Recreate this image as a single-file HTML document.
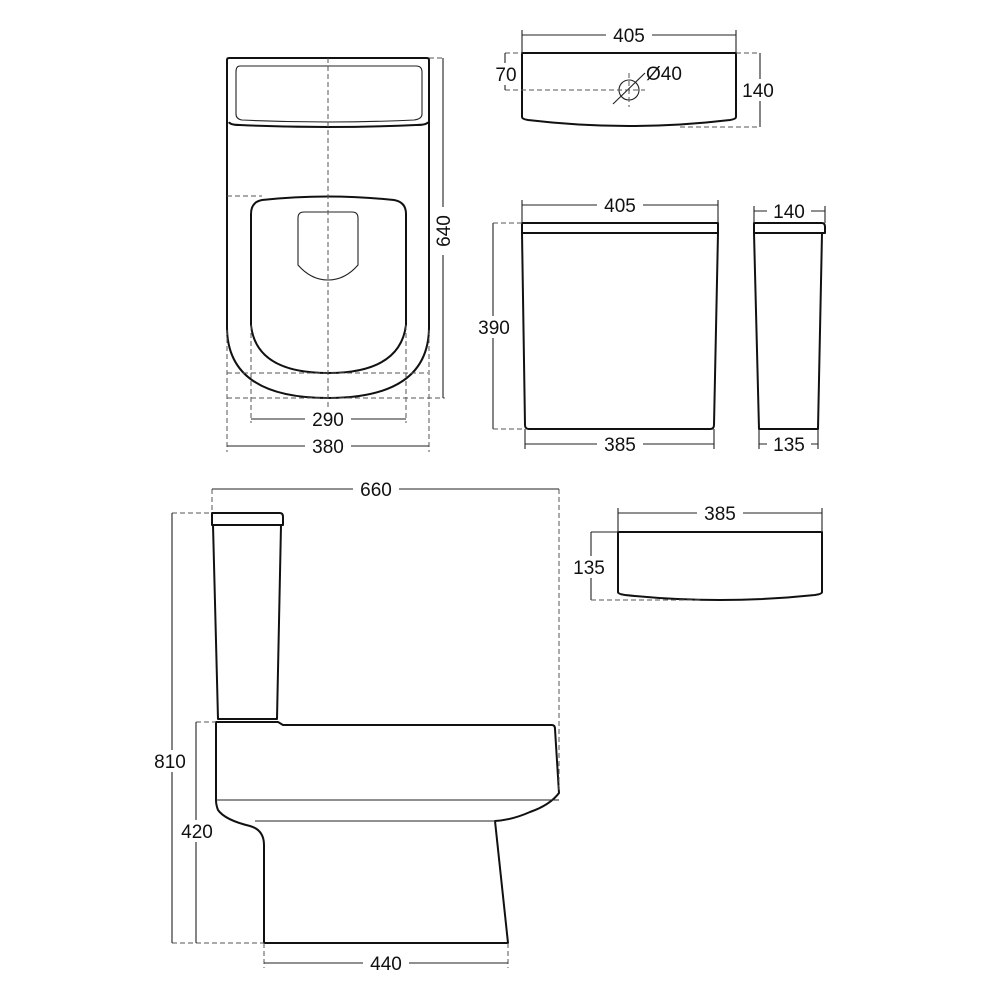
<!DOCTYPE html>
<html><head><meta charset="utf-8"><style>
html,body{margin:0;padding:0;background:#fff}
svg{display:block}
text{font-family:"Liberation Sans",Arial,sans-serif;font-size:19px;fill:#111}
.o{fill:none;stroke:#111;stroke-width:2;stroke-linejoin:round}
.t{fill:none;stroke:#222;stroke-width:1.1}
.d{fill:none;stroke:#555;stroke-width:1;stroke-dasharray:5 3}
.m{fill:none;stroke:#222;stroke-width:1.1}
.bg{fill:#fff}
</style></head><body>
<svg width="1000" height="1000" viewBox="0 0 1000 1000" xmlns="http://www.w3.org/2000/svg">
<!-- PLAN VIEW -->
<path class="o" d="M229 58 H427 Q429 58 429 60 V327 Q429 398 328 398 Q227 398 227 327 V60 Q227 58 229 58 Z"/>
<path class="o" d="M229 122 Q230 125 240 125 Q328 129 416 125 Q427 125 428 122"/>
<path class="t" d="M240 66 H416 Q422 66 422 72 V114 Q422 119 414 120 Q328 124 242 120 Q236 119 236 114 V72 Q236 66 240 66 Z"/>
<path class="o" d="M262 200 Q328 193 394 200 Q406 202 406 214 V325 Q400 373 328 373 Q256 373 251 325 V214 Q251 202 262 200 Z"/>
<path class="t" d="M304 212 H352 Q358 212 358 218 V265 Q345 280 328 280 Q311 280 298 265 V218 Q298 212 304 212 Z"/>
<path class="d" d="M328 58 V410 M227 196 H262 M227 373 H428 M227 398 H445 M251 325 V423 M406 325 V423 M227 330 V452 M429 330 V452 M429 58 H445"/>
<path class="m" d="M251 419 H406 M227 446 H429 M443 58 V398"/>
<rect class="bg" x="305" y="408" width="46" height="22"/><text x="328" y="426" text-anchor="middle">290</text>
<rect class="bg" x="305" y="435" width="46" height="22"/><text x="328" y="453" text-anchor="middle">380</text>
<rect class="bg" x="433" y="207" width="20" height="48"/><text transform="translate(450 231) rotate(-90)" text-anchor="middle">640</text>

<!-- CISTERN TOP VIEW -->
<path class="o" d="M522 53 H736 V117 Q736 119 730 120 Q629 132 528 120 Q522 119 522 117 Z"/>
<circle class="t" cx="629" cy="90" r="10"/>
<path class="t" d="M613 104 L645 73"/>
<path class="d" d="M629 73 V107 M505 90 H645 M505 53 H522 M736 53 H760 M680 127 H760"/>
<path class="m" d="M522 35 H736 M522 30 V53 M736 30 V53 M505 53 V90 M760 53 V127"/>
<rect class="bg" x="606" y="24" width="46" height="22"/><text x="629" y="42" text-anchor="middle">405</text>
<rect class="bg" x="493" y="63" width="26" height="22"/><text x="506" y="81" text-anchor="middle">70</text>
<text x="646" y="80">Ø40</text>
<rect class="bg" x="739" y="79" width="38" height="22"/><text x="758" y="97" text-anchor="middle">140</text>

<!-- CISTERN FRONT -->
<path class="o" d="M522 223 H718 V233 H522 Z"/>
<path class="o" d="M522 233 L525 425 Q525 429 529 429 H710 Q714 429 714 425 L718 233"/>
<path class="m" d="M522 205 H718 M522 200 V223 M718 200 V223 M493 223 V429 M525 444 H714 M525 429 V449 M714 429 V449"/>
<path class="d" d="M493 223 H522 M493 429 H525"/>
<rect class="bg" x="597" y="194" width="46" height="22"/><text x="620" y="212" text-anchor="middle">405</text>
<rect class="bg" x="471" y="316" width="46" height="22"/><text x="494" y="334" text-anchor="middle">390</text>
<rect class="bg" x="597" y="433" width="46" height="22"/><text x="620" y="451" text-anchor="middle">385</text>

<!-- CISTERN SIDE -->
<path class="o" d="M754 223 H822 Q825 223 825 227 V233 H754 Z"/>
<path class="o" d="M754 233 L759 429 H818 L822 233"/>
<path class="m" d="M754 211 H825 M754 206 V223 M825 206 V223 M759 444 H818 M759 429 V449 M818 429 V449"/>
<rect class="bg" x="767" y="200" width="44" height="22"/><text x="789" y="218" text-anchor="middle">140</text>
<rect class="bg" x="767" y="433" width="44" height="22"/><text x="789" y="451" text-anchor="middle">135</text>

<!-- LID SIDE -->
<path class="o" d="M618 532 H822 V592 Q822 594 815 595 Q720 605 625 595 Q618 594 618 592 Z"/>
<path class="m" d="M618 513 H822 M618 508 V532 M822 508 V532 M591 532 V600 M591 532 H618"/>
<path class="d" d="M591 600 H700"/>
<rect class="bg" x="697" y="502" width="46" height="22"/><text x="720" y="520" text-anchor="middle">385</text>
<rect class="bg" x="568" y="556" width="44" height="22"/><text x="589" y="574" text-anchor="middle">135</text>

<!-- SIDE VIEW -->
<path class="o" d="M212 513 H280 Q283 513 283 517 V525 H212 Z"/>
<path class="o" d="M213 525 L218 719 H277 L281 525"/>
<path class="o" d="M216 722 H278 L283 725 H552 Q555 725 555 729 L559 793 Q550 805 530 812 Q512 820 495 821 L508 943 H264 V845 Q264 830 250 826 Q225 820 218 810 Q216 805 216 800 Z"/>
<path class="t" d="M216 800 H559 M255 821 H495"/>
<path class="d" d="M212 489 V513 M559 489 V790 M172 513 H212 M196 722 H216 M172 943 H264 M264 943 V968 M508 943 V968"/>
<path class="m" d="M212 489 H559 M172 513 V943 M196 722 V943 M264 963 H508"/>
<rect class="bg" x="353" y="478" width="46" height="22"/><text x="376" y="496" text-anchor="middle">660</text>
<rect class="bg" x="147" y="750" width="46" height="22"/><text x="170" y="768" text-anchor="middle">810</text>
<rect class="bg" x="174" y="820" width="46" height="22"/><text x="197" y="838" text-anchor="middle">420</text>
<rect class="bg" x="363" y="952" width="46" height="22"/><text x="386" y="970" text-anchor="middle">440</text>
</svg>
</body></html>
